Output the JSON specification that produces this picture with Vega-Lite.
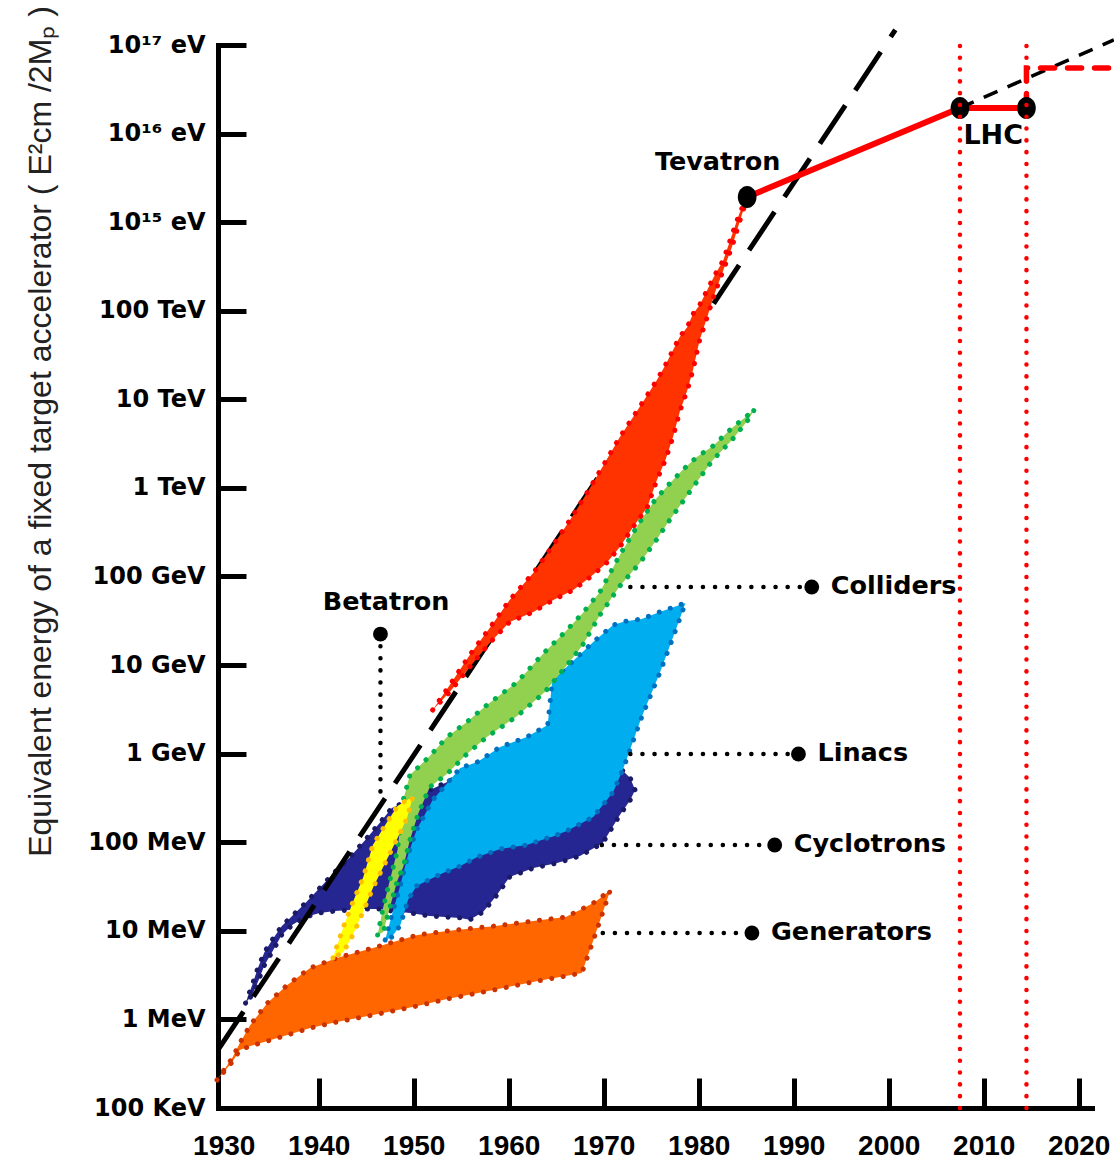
{
  "$schema": "https://vega.github.io/schema/vega-lite/v6.json",
  "width": 874,
  "height": 1063,
  "autosize": {"type": "none"},
  "padding": {"left": 218, "top": 45, "right": 22, "bottom": 51},
  "background": "white",
  "config": {"view": {"stroke": null}},
  "datasets": {
    "gen": [
      {"year": 1929.3, "E": 2.07e5, "E2": 2.07e5},
      {"year": 1930.9, "E": 3.66e5, "E2": 3.30e5},
      {"year": 1931.7, "E": 5.42e5, "E2": 4.52e5},
      {"year": 1932.8, "E": 8.65e5, "E2": 5.00e5},
      {"year": 1934.6, "E": 1.53e6, "E2": 5.71e5},
      {"year": 1936.7, "E": 2.45e6, "E2": 6.67e5},
      {"year": 1939.1, "E": 3.81e6, "E2": 8.00e5},
      {"year": 1941.9, "E": 4.94e6, "E2": 9.35e5},
      {"year": 1945.7, "E": 6.40e6, "E2": 1.12e6},
      {"year": 1950.4, "E": 8.97e6, "E2": 1.42e6},
      {"year": 1953.5, "E": 9.95e6, "E2": 1.70e6},
      {"year": 1958.4, "E": 1.13e7, "E2": 2.15e6},
      {"year": 1963.6, "E": 1.33e7, "E2": 2.79e6},
      {"year": 1966.0, "E": 1.43e7, "E2": 3.09e6},
      {"year": 1967.7, "E": 1.76e7, "E2": 3.34e6},
      {"year": 1969.1, "E": 2.12e7, "E2": 8.97e6},
      {"year": 1970.7, "E": 2.89e7, "E2": 2.89e7}
    ],
    "cyc": [
      {"year": 1932.3, "E": 1.53e6, "E2": 1.53e6},
      {"year": 1933.0, "E": 2.45e6, "E2": 1.89e6},
      {"year": 1933.6, "E": 3.81e6, "E2": 2.65e6},
      {"year": 1934.3, "E": 5.77e6, "E2": 4.11e6},
      {"year": 1935.1, "E": 7.88e6, "E2": 5.77e6},
      {"year": 1936.1, "E": 1.13e7, "E2": 8.97e6},
      {"year": 1937.2, "E": 1.47e7, "E2": 1.16e7},
      {"year": 1938.6, "E": 2.06e7, "E2": 1.43e7},
      {"year": 1940.1, "E": 3.04e7, "E2": 1.59e7},
      {"year": 1941.7, "E": 4.62e7, "E2": 1.67e7},
      {"year": 1943.3, "E": 6.82e7, "E2": 1.72e7},
      {"year": 1944.9, "E": 1.06e8, "E2": 1.76e7},
      {"year": 1946.5, "E": 1.69e8, "E2": 1.76e7},
      {"year": 1947.7, "E": 2.44e8, "E2": 1.67e7},
      {"year": 1949.6, "E": 3.00e8, "E2": 1.59e7},
      {"year": 1951.7, "E": 3.89e8, "E2": 1.47e7},
      {"year": 1954.9, "E": 5.60e8, "E2": 1.40e7},
      {"year": 1955.9, "E": 6.21e8, "E2": 1.33e7},
      {"year": 1957.3, "E": 6.54e8, "E2": 1.63e7},
      {"year": 1958.6, "E": 6.54e8, "E2": 2.41e7},
      {"year": 1960.1, "E": 6.54e8, "E2": 4.05e7},
      {"year": 1962.6, "E": 6.54e8, "E2": 5.12e7},
      {"year": 1965.1, "E": 6.54e8, "E2": 5.83e7},
      {"year": 1967.5, "E": 6.54e8, "E2": 6.99e7},
      {"year": 1969.9, "E": 6.54e8, "E2": 9.81e7},
      {"year": 1971.7, "E": 6.89e8, "E2": 2.03e8},
      {"year": 1972.8, "E": 5.31e8, "E2": 3.00e8},
      {"year": 1973.3, "E": 3.89e8, "E2": 3.89e8}
    ],
    "lin": [
      {"year": 1947.0, "E": 7.88e6, "E2": 7.88e6},
      {"year": 1947.7, "E": 1.51e7, "E2": 8.52e6},
      {"year": 1948.6, "E": 3.29e7, "E2": 1.16e7},
      {"year": 1949.4, "E": 7.18e7, "E2": 2.23e7},
      {"year": 1950.3, "E": 1.375e8, "E2": 3.21e7},
      {"year": 1952.0, "E": 3.00e8, "E2": 3.95e7},
      {"year": 1953.1, "E": 4.10e8, "E2": 4.50e7},
      {"year": 1954.9, "E": 6.89e8, "E2": 5.39e7},
      {"year": 1956.7, "E": 8.05e8, "E2": 6.82e7},
      {"year": 1959.1, "E": 1.19e9, "E2": 8.39e7},
      {"year": 1961.9, "E": 1.54e9, "E2": 9.31e7},
      {"year": 1964.1, "E": 2.11e9, "E2": 1.12e8},
      {"year": 1964.6, "E": 6.79e9, "E2": 1.15e8},
      {"year": 1966.1, "E": 9.52e9, "E2": 1.34e8},
      {"year": 1968.9, "E": 1.82e10, "E2": 1.93e8},
      {"year": 1971.0, "E": 2.83e10, "E2": 3.69e8},
      {"year": 1972.0, "E": 3.07e10, "E2": 6.54e8},
      {"year": 1972.5, "E": 3.15e10, "E2": 9.17e8},
      {"year": 1974.0, "E": 3.31e10, "E2": 2.59e9},
      {"year": 1975.9, "E": 3.98e10, "E2": 8.14e9},
      {"year": 1977.7, "E": 4.65e10, "E2": 2.69e10},
      {"year": 1978.6, "E": 5.02e10, "E2": 5.02e10}
    ],
    "col": [
      {"year": 1946.2, "E": 8.97e6, "E2": 8.97e6},
      {"year": 1946.8, "E": 1.86e7, "E2": 9.70e6},
      {"year": 1947.5, "E": 3.75e7, "E2": 1.86e7},
      {"year": 1948.3, "E": 8.18e7, "E2": 3.75e7},
      {"year": 1948.9, "E": 3.00e8, "E2": 5.26e7},
      {"year": 1949.6, "E": 5.74e8, "E2": 1.06e8},
      {"year": 1950.5, "E": 7.07e8, "E2": 2.14e8},
      {"year": 1951.7, "E": 9.40e8, "E2": 4.21e8},
      {"year": 1953.5, "E": 1.54e9, "E2": 5.89e8},
      {"year": 1955.6, "E": 2.28e9, "E2": 9.92e8},
      {"year": 1957.7, "E": 3.54e9, "E2": 1.54e9},
      {"year": 1960.9, "E": 6.44e9, "E2": 2.66e9},
      {"year": 1963.8, "E": 1.405e10, "E2": 4.97e9},
      {"year": 1965.9, "E": 2.35e10, "E2": 9.27e9},
      {"year": 1967.8, "E": 3.87e10, "E2": 1.69e10},
      {"year": 1969.6, "E": 6.69e10, "E2": 3.68e10},
      {"year": 1971.7, "E": 1.75e11, "E2": 7.81e10},
      {"year": 1973.8, "E": 4.12e11, "E2": 1.42e11},
      {"year": 1975.4, "E": 7.31e11, "E2": 2.45e11},
      {"year": 1976.8, "E": 1.08e12, "E2": 4.12e11},
      {"year": 1978.3, "E": 1.59e12, "E2": 6.94e11},
      {"year": 1979.8, "E": 2.23e12, "E2": 1.17e12},
      {"year": 1981.5, "E": 2.97e12, "E2": 2.07e12},
      {"year": 1983.5, "E": 4.75e12, "E2": 3.48e12},
      {"year": 1985.2, "E": 6.66e12, "E2": 5.84e12},
      {"year": 1985.9, "E": 7.78e12, "E2": 7.78e12}
    ],
    "bet": [
      {"year": 1941.5, "E": 4.94e6, "E2": 4.94e6},
      {"year": 1942.6, "E": 1.105e7, "E2": 5.77e6},
      {"year": 1943.6, "E": 2.12e7, "E2": 8.97e6},
      {"year": 1944.7, "E": 4.05e7, "E2": 1.67e7},
      {"year": 1945.7, "E": 9.31e7, "E2": 3.04e7},
      {"year": 1947.2, "E": 1.69e8, "E2": 6.47e7},
      {"year": 1948.3, "E": 2.57e8, "E2": 1.117e8},
      {"year": 1949.3, "E": 3.00e8, "E2": 1.88e8},
      {"year": 1949.9, "E": 3.24e8, "E2": 3.24e8}
    ],
    "syn": [
      {"year": 1952.0, "E": 3.11e9, "E2": 3.11e9},
      {"year": 1953.8, "E": 5.96e9, "E2": 4.97e9},
      {"year": 1955.9, "E": 1.30e10, "E2": 9.52e9},
      {"year": 1958.0, "E": 2.62e10, "E2": 1.78e10},
      {"year": 1960.1, "E": 5.43e10, "E2": 3.07e10},
      {"year": 1962.6, "E": 1.10e11, "E2": 3.98e10},
      {"year": 1964.7, "E": 2.27e11, "E2": 5.43e10},
      {"year": 1966.8, "E": 4.95e11, "E2": 7.04e10},
      {"year": 1968.6, "E": 1.02e12, "E2": 9.87e10},
      {"year": 1970.3, "E": 2.07e12, "E2": 1.42e11},
      {"year": 1971.7, "E": 3.76e12, "E2": 2.15e11},
      {"year": 1973.1, "E": 6.32e12, "E2": 3.62e11},
      {"year": 1974.6, "E": 1.12e13, "E2": 6.09e11},
      {"year": 1975.6, "E": 1.65e13, "E2": 1.23e12},
      {"year": 1976.5, "E": 2.44e13, "E2": 2.07e12},
      {"year": 1977.3, "E": 3.61e13, "E2": 3.76e12},
      {"year": 1978.0, "E": 5.06e13, "E2": 7.20e12},
      {"year": 1978.8, "E": 6.56e13, "E2": 1.27e13},
      {"year": 1979.4, "E": 9.19e13, "E2": 2.14e13},
      {"year": 1980.1, "E": 1.16e14, "E2": 4.68e13},
      {"year": 1980.9, "E": 1.72e14, "E2": 8.50e13},
      {"year": 1981.7, "E": 2.53e14, "E2": 1.59e14},
      {"year": 1982.6, "E": 3.74e14, "E2": 2.89e14},
      {"year": 1983.5, "E": 7.17e14, "E2": 5.25e14},
      {"year": 1984.3, "E": 1.27e15, "E2": 1.005e15},
      {"year": 1985.1, "E": 1.87e15, "E2": 1.87e15}
    ],
    "trend": [
      {"year": 1929.4, "E": 4.52e5},
      {"year": 2000.7, "E": 1.48e17}
    ],
    "frontier": [
      {"year": 1985.1, "E": 1.92e15},
      {"year": 2007.5, "E": 1.95e16},
      {"year": 2014.5, "E": 1.95e16}
    ],
    "extrap": [
      {"year": 2007.5, "E": 1.95e16},
      {"year": 2023.7, "E": 1.14e17}
    ],
    "upgrade": [
      {"i": 0, "year": 2014.5, "E": 1.95e16},
      {"i": 1, "year": 2014.5, "E": 5.50e16},
      {"i": 2, "year": 2023.7, "E": 5.50e16}
    ],
    "machines": [
      {"name": "Tevatron", "year": 1985.1, "E": 1.92e15},
      {"name": "LHC", "year": 2007.5, "E": 1.95e16},
      {"name": "LHC", "year": 2014.5, "E": 1.95e16}
    ],
    "lhcyears": [
      {"year": 2007.5, "E": 1e5, "E2": 1e17},
      {"year": 2014.5, "E": 1e5, "E2": 1e17}
    ],
    "leaders": [
      {"label": "Colliders", "year": 1972.8, "E": 7.61e10},
      {"label": "Colliders", "year": 1991.9, "E": 7.61e10},
      {"label": "Linacs", "year": 1972.8, "E": 9.92e8},
      {"label": "Linacs", "year": 1990.5, "E": 9.92e8},
      {"label": "Cyclotrons", "year": 1969.8, "E": 9.31e7},
      {"label": "Cyclotrons", "year": 1988.0, "E": 9.31e7},
      {"label": "Generators", "year": 1969.9, "E": 9.45e6},
      {"label": "Generators", "year": 1985.6, "E": 9.45e6},
      {"label": "Betatron", "year": 1946.5, "E": 2.24e10},
      {"label": "Betatron", "year": 1946.5, "E": 2.9e8}
    ],
    "ends": [
      {"label": "Colliders", "year": 1991.9, "E": 7.61e10},
      {"label": "Linacs", "year": 1990.5, "E": 9.92e8},
      {"label": "Cyclotrons", "year": 1988.0, "E": 9.31e7},
      {"label": "Generators", "year": 1985.6, "E": 9.45e6},
      {"label": "Betatron", "year": 1946.5, "E": 2.24e10}
    ],
    "names": [
      {"label": "Betatron", "year": 1947.1, "E": 5.15e10},
      {"label": "Tevatron", "year": 1982.0, "E": 4.78e15}
    ],
    "lhcname": [
      {"label": "LHC", "year": 2011.0, "E": 9.40e15}
    ]
  },
  "encoding": {
    "x": {
      "field": "year",
      "type": "quantitative",
      "scale": {"domain": [1929.4, 2021.4], "nice": false, "zero": false},
      "axis": {
        "title": null,
        "values": [1930, 1940, 1950, 1960, 1970, 1980, 1990, 2000, 2010, 2020],
        "format": "d",
        "grid": false,
        "domainColor": "black",
        "domainWidth": 5,
        "domainCap": "square",
        "tickColor": "black",
        "tickWidth": 5,
        "tickSize": -30,
        "tickOpacity": {"condition": {"test": "datum.value == 1930", "value": 0}, "value": 1},
        "labelFont": "Liberation Sans",
        "labelFontWeight": "bold",
        "labelFontSize": 28,
        "labelColor": "black",
        "labelPadding": 54,
        "labelDx": 7,
        "labelBaseline": "top",
        "labelFlush": false,
        "labelOverlap": false,
        "labelBound": false
      }
    },
    "y": {
      "field": "E",
      "type": "quantitative",
      "scale": {"type": "log", "domain": [1e5, 1e17], "nice": false},
      "axis": {
        "title": "Equivalent energy of a fixed target accelerator ( E²cm /2Mₚ )",
        "values": [1e5, 1e6, 1e7, 1e8, 1e9, 1e10, 1e11, 1e12, 1e13, 1e14, 1e15, 1e16, 1e17],
        "labelExpr": "['100 KeV','1 MeV','10 MeV','100 MeV','1 GeV','10 GeV','100 GeV','1 TeV','10 TeV','100 TeV','10¹⁵ eV','10¹⁶ eV','10¹⁷ eV'][round(log(datum.value)/LN10)-5]",
        "grid": false,
        "domainColor": "black",
        "domainWidth": 5,
        "domainCap": "square",
        "tickColor": "black",
        "tickWidth": 5,
        "tickSize": -28,
        "labelFont": "DejaVu Sans",
        "labelFontWeight": "bold",
        "labelFontSize": 24,
        "labelColor": "black",
        "labelPadding": 41,
        "labelFlush": false,
        "labelOverlap": false,
        "labelBound": false,
        "titleFont": "Liberation Sans",
        "titleFontSize": 32,
        "titleFontWeight": "normal",
        "titleColor": "#222222",
        "titleAngle": -90,
        "titleX": -168,
        "titleY": 386,
        "titleAlign": "center",
        "titleBaseline": "alphabetic"
      }
    }
  },
  "layer": [
    {
      "data": {"name": "gen"},
      "mark": {"type": "area", "fill": "#FF6600", "stroke": "#CC3300", "strokeWidth": 5, "strokeDash": [0.1, 11.5], "strokeCap": "round"},
      "encoding": {"y2": {"field": "E2"}}
    },
    {
      "data": {"name": "cyc"},
      "mark": {"type": "area", "fill": "#262693", "stroke": "#1A1A66", "strokeWidth": 5, "strokeDash": [0.1, 11.5], "strokeCap": "round"},
      "encoding": {"y2": {"field": "E2"}}
    },
    {
      "data": {"name": "trend"},
      "mark": {"type": "line", "color": "black", "strokeWidth": 5, "strokeDash": [46, 18]},
      "encoding": {}
    },
    {
      "data": {"name": "lin"},
      "mark": {"type": "area", "fill": "#00AEEF", "stroke": "#0070C0", "strokeWidth": 5, "strokeDash": [0.1, 11.5], "strokeCap": "round"},
      "encoding": {"y2": {"field": "E2"}}
    },
    {
      "data": {"name": "col"},
      "mark": {"type": "area", "fill": "#92D050", "stroke": "#00B050", "strokeWidth": 5, "strokeDash": [0.1, 11.5], "strokeCap": "round"},
      "encoding": {"y2": {"field": "E2"}}
    },
    {
      "data": {"name": "bet"},
      "mark": {"type": "area", "fill": "#FFFF00", "stroke": "#FFC000", "strokeWidth": 5, "strokeDash": [0.1, 11.5], "strokeCap": "round"},
      "encoding": {"y2": {"field": "E2"}}
    },
    {
      "data": {"name": "syn"},
      "mark": {"type": "area", "fill": "#FF3300", "stroke": "#FF0000", "strokeWidth": 5, "strokeDash": [0.1, 11.5], "strokeCap": "round"},
      "encoding": {"y2": {"field": "E2"}}
    },
    {
      "data": {"name": "frontier"},
      "mark": {"type": "line", "color": "#FF0000", "strokeWidth": 6},
      "encoding": {}
    },
    {
      "data": {"name": "extrap"},
      "mark": {"type": "line", "color": "black", "strokeWidth": 3.5, "strokeDash": [15, 11]},
      "encoding": {}
    },
    {
      "data": {"name": "upgrade"},
      "mark": {"type": "line", "color": "#FF0000", "strokeWidth": 5.5, "strokeDash": [14, 13], "strokeCap": "round"},
      "encoding": {"order": {"field": "i", "type": "quantitative"}}
    },
    {
      "data": {"name": "machines"},
      "mark": {"type": "point", "filled": true, "color": "black", "opacity": 1, "size": 484, "shape": "M-0.85,0A0.85,1,0,1,1,0.85,0A0.85,1,0,1,1,-0.85,0Z"},
      "encoding": {}
    },
    {
      "data": {"name": "lhcyears"},
      "mark": {"type": "rule", "color": "#FF0000", "strokeWidth": 4.5, "strokeDash": [0.1, 11.7], "strokeCap": "round"},
      "encoding": {"y2": {"field": "E2"}}
    },
    {
      "data": {"name": "leaders"},
      "mark": {"type": "line", "color": "black", "strokeWidth": 4.5, "strokeDash": [0.1, 12], "strokeCap": "round"},
      "encoding": {"detail": {"field": "label", "type": "nominal"}}
    },
    {
      "data": {"name": "ends"},
      "mark": {"type": "point", "filled": true, "color": "black", "opacity": 1, "size": 220, "shape": "circle"},
      "encoding": {}
    },
    {
      "data": {"name": "ends"},
      "transform": [{"filter": "datum.label != 'Betatron'"}],
      "mark": {"type": "text", "align": "left", "baseline": "middle", "dx": 19, "dy": -1, "font": "DejaVu Sans", "fontWeight": "bold", "fontSize": 25.5, "color": "black"},
      "encoding": {"text": {"field": "label"}}
    },
    {
      "data": {"name": "names"},
      "mark": {"type": "text", "align": "center", "baseline": "middle", "font": "DejaVu Sans", "fontWeight": "bold", "fontSize": 25.5, "color": "black"},
      "encoding": {"text": {"field": "label"}}
    },
    {
      "data": {"name": "lhcname"},
      "mark": {"type": "text", "align": "center", "baseline": "middle", "font": "DejaVu Sans", "fontWeight": "bold", "fontSize": 27, "color": "black"},
      "encoding": {"text": {"field": "label"}}
    }
  ]
}
